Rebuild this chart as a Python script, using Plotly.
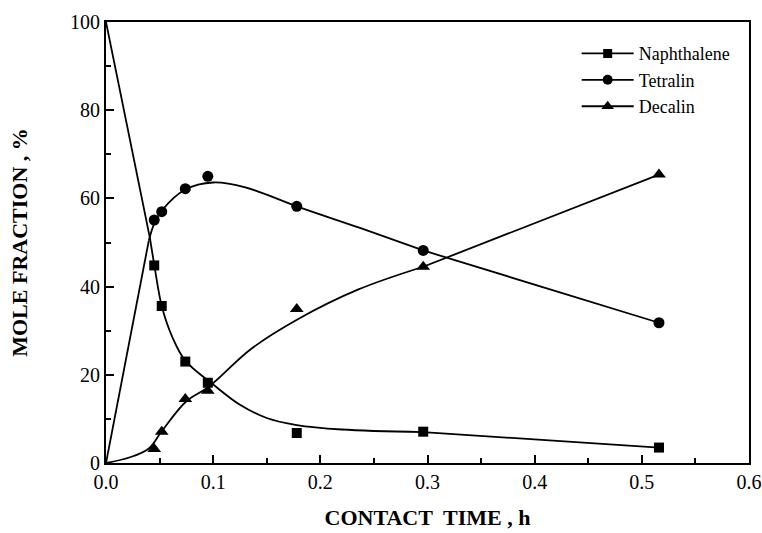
import plotly.graph_objects as go

# Measured data points
contact_time = [0.045, 0.052, 0.074, 0.095, 0.178, 0.296, 0.516]
naphthalene = [44.8, 35.6, 23.0, 18.2, 6.8, 7.1, 3.5]
tetralin = [55.1, 57.0, 62.2, 65.0, 58.2, 48.2, 31.8]
decalin = [3.2, 7.1, 14.5, 16.4, 34.9, 44.5, 65.4]

# Fitted curves: straight start, smooth body, straight end
head_x_n = [0.0, 0.041]
head_y_n = [100.0, 51.0]
body_x_n = [0.041, 0.045, 0.052, 0.062, 0.074, 0.1, 0.125, 0.15, 0.178, 0.22, 0.296]
body_y_n = [51.0, 45.0, 35.6, 28.5, 23.2, 17.8, 13.2, 10.2, 8.6, 7.6, 7.0]
tail_x_n = [0.296, 0.516]
tail_y_n = [7.0, 3.5]

head_x_t = [0.0, 0.040]
head_y_t = [0.0, 50.5]
body_x_t = [0.040, 0.045, 0.052, 0.074, 0.1, 0.13, 0.178, 0.237, 0.296]
body_y_t = [50.5, 54.3, 57.2, 62.0, 63.6, 62.5, 58.2, 53.3, 48.2]
tail_x_t = [0.296, 0.516]
tail_y_t = [48.2, 31.8]

head_x_d = [0.0, 0.0]
head_y_d = [0.0, 0.0]
body_x_d = [0.0, 0.0224, 0.040, 0.052, 0.075, 0.096, 0.135, 0.179, 0.235, 0.296]
body_y_d = [0.0, 1.3, 3.3, 7.2, 14.0, 17.3, 25.8, 32.6, 39.3, 44.5]
tail_x_d = [0.296, 0.516]
tail_y_d = [44.5, 65.4]

series = [
    ("Naphthalene", naphthalene, (head_x_n, head_y_n), (body_x_n, body_y_n), (tail_x_n, tail_y_n), "square", 10),
    ("Tetralin", tetralin, (head_x_t, head_y_t), (body_x_t, body_y_t), (tail_x_t, tail_y_t), "circle", 11),
    ("Decalin", decalin, (head_x_d, head_y_d), (body_x_d, body_y_d), (tail_x_d, tail_y_d), "triangle-up", 12),
]

LW = 1.8
fig = go.Figure()
for name, vals, head, body, tail, sym, sz in series:
    for seg, shape in ((head, "linear"), (body, "spline"), (tail, "linear")):
        fig.add_trace(go.Scatter(
            x=seg[0], y=seg[1], mode="lines",
            line=dict(color="black", width=LW, shape=shape, smoothing=1.0),
            showlegend=False, hoverinfo="skip"))
    fig.add_trace(go.Scatter(
        x=contact_time, y=vals, mode="markers", name=name,
        marker=dict(symbol=sym, size=sz, color="black"), showlegend=False))
    fig.add_trace(go.Scatter(
        x=[None], y=[None], mode="lines+markers", name=name,
        line=dict(color="black", width=LW), marker=dict(symbol=sym, size=sz - 1, color="black")))

serif = "Liberation Serif"
fig.update_layout(
    width=762, height=533,
    margin=dict(l=106, r=13, t=22, b=70),
    paper_bgcolor="white", plot_bgcolor="white",
    font=dict(family=serif, color="black"),
    showlegend=True,
    legend=dict(x=0.732, y=0.97, xanchor="left", yanchor="top",
                font=dict(family=serif, size=18, color="black"),
                itemwidth=52,
                bgcolor="rgba(0,0,0,0)", tracegroupgap=0),
    xaxis=dict(range=[0, 0.6], tickvals=[0, 0.1, 0.2, 0.3, 0.4, 0.5, 0.6],
               ticktext=["0.0", "0.1", "0.2", "0.3", "0.4", "0.5", "0.6"],
               ticks="inside", ticklen=8, tickwidth=2, tickcolor="black",
               minor=dict(dtick=0.05, ticks="inside", ticklen=5, tickwidth=2, tickcolor="black"),
               showline=True, linewidth=2, linecolor="black", mirror=True,
               showgrid=False, zeroline=False, automargin=False,
               tickfont=dict(family=serif, size=20, color="black"),
               title=dict(text="<b>CONTACT  TIME , h</b>", font=dict(family=serif, size=22, color="black"), standoff=18)),
    yaxis=dict(range=[0, 100], tickvals=[0, 20, 40, 60, 80, 100],
               ticks="inside", ticklen=8, tickwidth=2, tickcolor="black",
               minor=dict(dtick=10, ticks="inside", ticklen=5, tickwidth=2, tickcolor="black"),
               showline=True, linewidth=2, linecolor="black", mirror=True,
               showgrid=False, zeroline=False, automargin=False,
               tickfont=dict(family=serif, size=20, color="black"),
               title=dict(text="<b>MOLE FRACTION , %</b>", font=dict(family=serif, size=22, color="black"), standoff=36)),
)

fig.write_html("out.html",
               config={"displayModeBar": False},
               post_script="document.body.style.margin='0';document.body.style.overflow='hidden';")
